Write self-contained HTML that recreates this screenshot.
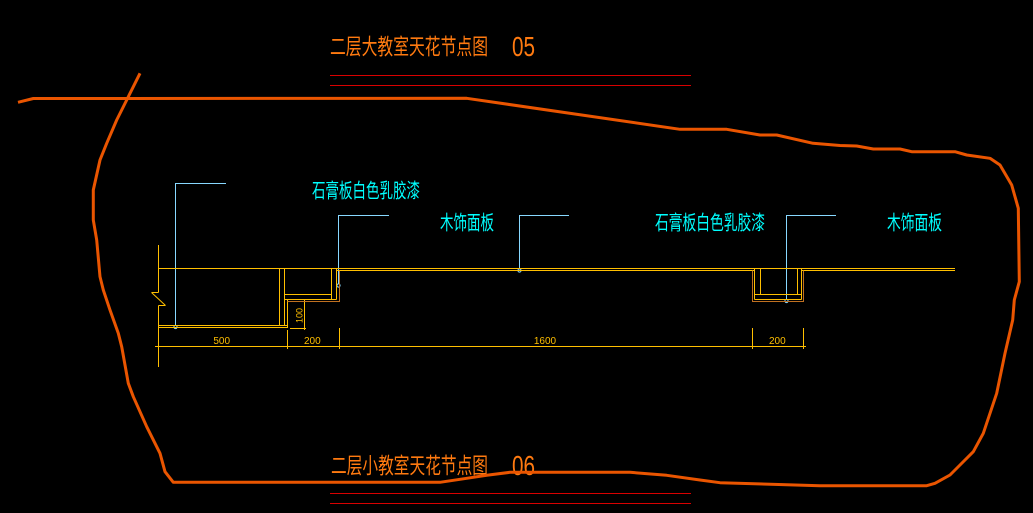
<!DOCTYPE html>
<html>
<head>
<meta charset="utf-8">
<style>
  html,body{margin:0;padding:0;background:#000;}
  body{width:1033px;height:513px;overflow:hidden;}
  svg{display:block;}
  .cjk{font-family:"Liberation Sans","Noto Sans CJK SC",sans-serif;}
</style>
</head>
<body>
<svg width="1033" height="513" viewBox="0 0 1033 513" xmlns="http://www.w3.org/2000/svg">
  <rect x="0" y="0" width="1033" height="513" fill="#000"/>

  <!-- titles -->
  <text class="cjk" x="330" y="54.5" font-size="22" fill="#ff7a10" textLength="158" lengthAdjust="spacingAndGlyphs">二层大教室天花节点图</text>
  <text x="512" y="56" font-family="Liberation Sans, sans-serif" font-size="28" fill="#ff7a10" textLength="23" lengthAdjust="spacingAndGlyphs">05</text>
  <text class="cjk" x="331" y="473.5" font-size="22" fill="#ff7a10" textLength="157" lengthAdjust="spacingAndGlyphs">二层小教室天花节点图</text>
  <text x="512" y="475" font-family="Liberation Sans, sans-serif" font-size="28" fill="#ff7a10" textLength="23" lengthAdjust="spacingAndGlyphs">06</text>

  <!-- title underlines -->
  <g stroke="#d80000" stroke-width="1" shape-rendering="crispEdges">
    <line x1="330" y1="75.5" x2="691" y2="75.5"/>
    <line x1="330" y1="85.5" x2="691" y2="85.5"/>
    <line x1="330" y1="493.5" x2="691" y2="493.5"/>
    <line x1="330" y1="503.5" x2="691" y2="503.5"/>
  </g>

  <!-- cyan labels -->
  <g class="cjk" fill="#00ffff" font-size="20">
    <text x="312" y="197.5" textLength="108" lengthAdjust="spacingAndGlyphs">石膏板白色乳胶漆</text>
    <text x="440" y="229.5" textLength="54" lengthAdjust="spacingAndGlyphs">木饰面板</text>
    <text x="655" y="229.5" textLength="110" lengthAdjust="spacingAndGlyphs">石膏板白色乳胶漆</text>
    <text x="887" y="229.5" textLength="55" lengthAdjust="spacingAndGlyphs">木饰面板</text>
  </g>

  <!-- leaders -->
  <g stroke="#88d8ff" stroke-width="1" fill="none" shape-rendering="crispEdges">
    <polyline points="226,183.5 175.5,183.5 175.5,326"/>
    <polyline points="389,215.5 338.5,215.5 338.5,284"/>
    <polyline points="569,215.5 519.5,215.5 519.5,269.5"/>
    <polyline points="836,215.5 786.5,215.5 786.5,299.5"/>
  </g>
  <g stroke="#88d8ff" stroke-width="1" fill="none">
    <circle cx="175.5" cy="327" r="1.6"/>
    <circle cx="338.5" cy="285.5" r="1.6"/>
    <circle cx="519.5" cy="270.5" r="1.6"/>
    <circle cx="786.5" cy="301" r="1.6"/>
  </g>

  <!-- yellow drawing -->
  <g stroke="#ffbf00" stroke-width="1" fill="none" shape-rendering="crispEdges">
    <!-- wall -->
    <line x1="158.5" y1="245" x2="158.5" y2="292.5"/>
    <line x1="151.5" y1="292.5" x2="158.5" y2="292.5"/>
    <line x1="158.5" y1="305.5" x2="165.5" y2="305.5"/>
    <line x1="158.5" y1="305.5" x2="158.5" y2="367"/>
    <!-- ceiling lines -->
    <line x1="158" y1="268.5" x2="955" y2="268.5"/>
    <line x1="336" y1="270.5" x2="754" y2="270.5"/>
    <line x1="801" y1="270.5" x2="955" y2="270.5"/>
    <!-- left low ceiling -->
    <line x1="158" y1="325.5" x2="287" y2="325.5"/>
    <line x1="158" y1="327.5" x2="288" y2="327.5"/>
    <line x1="279.5" y1="268.5" x2="279.5" y2="325.5"/>
    <line x1="284.5" y1="268.5" x2="284.5" y2="325.5"/>
    <line x1="287.5" y1="299.5" x2="287.5" y2="327.5"/>
    <line x1="284.5" y1="294.5" x2="331.5" y2="294.5"/>
    <line x1="331.5" y1="268.5" x2="331.5" y2="299.5"/>
    <line x1="336.5" y1="268.5" x2="336.5" y2="299.5"/>
    <line x1="284.5" y1="299.5" x2="336.5" y2="299.5"/>
    <!-- 100 dim -->
    <line x1="304.5" y1="299.5" x2="304.5" y2="330"/>
    <line x1="290" y1="328.5" x2="306" y2="328.5"/>
    <!-- right box -->
    <line x1="754.5" y1="268.5" x2="754.5" y2="299.5"/>
    <line x1="760.5" y1="268.5" x2="760.5" y2="294.5"/>
    <line x1="797.5" y1="268.5" x2="797.5" y2="294.5"/>
    <line x1="801.5" y1="268.5" x2="801.5" y2="299.5"/>
    <line x1="754.5" y1="294.5" x2="801.5" y2="294.5"/>
    <line x1="754.5" y1="299.5" x2="801.5" y2="299.5"/>
    <!-- dimension line -->
    <line x1="155" y1="346.5" x2="806" y2="346.5"/>
    <line x1="287.5" y1="330" x2="287.5" y2="349"/>
    <line x1="339.5" y1="328" x2="339.5" y2="349"/>
    <line x1="752.5" y1="328" x2="752.5" y2="349"/>
    <line x1="803.5" y1="328" x2="803.5" y2="349"/>
    <line x1="155" y1="346.5" x2="161" y2="346.5"/>
  </g>
  <line x1="151.5" y1="292.5" x2="165.5" y2="305.5" stroke="#ffbf00" stroke-width="1"/>

  <!-- brown lines -->
  <g stroke="#c07020" stroke-width="1" fill="none" shape-rendering="crispEdges">
    <polyline points="287.5,301.5 339.5,301.5 339.5,270.5"/>
    <polyline points="752.5,270.5 752.5,301.5 803.5,301.5 803.5,270.5"/>
  </g>

  <!-- dimension texts -->
  <g font-family="Liberation Sans, sans-serif" font-size="10" fill="#ffbf00" text-anchor="middle">
    <text x="221.7" y="344">500</text>
    <text x="312.3" y="344">200</text>
    <text x="545" y="344">1600</text>
    <text x="777.3" y="344">200</text>
    <text x="0" y="0" transform="translate(302.5,315.5) rotate(-90)" font-size="9">100</text>
  </g>

  <!-- orange cloud -->
  <g stroke="#ea5500" stroke-width="3" fill="none" stroke-linejoin="round" stroke-linecap="butt">
    <polyline points="18,102.3 33.3,98.5 466.7,98.3 680,129.3 726.7,129.3 760,135 776.7,135 813,143.3 840,145.5 856.7,146 873.3,149 900,149 911.7,151.7 955,151.7 966.7,155 990,158.3 1000,165 1011.7,185 1018.3,208.3 1019.3,281.7 1014.3,300 1012.7,320 1005,353.3 996.7,393.3 983.3,433.3 973.3,451.7 960,465 950,475 935,483.3 926.7,485.7 820,485.7 720,482.7 700,480 666.7,475.3 630,472.3 510,472.3 486.7,475.3 466.7,478.3 440,482.3 173.3,482.3 165,471.7 160,453.3 146.7,426.7 133.3,396.7 128.3,383.3 121.7,346.7 118.3,333.3 110,310 103.3,290 100,276.7 96.7,240 93.3,220 93.3,190 100,160 106.7,143.3 116.7,120 126.7,100 140,73.3"/>
  </g>
</svg>
</body>
</html>
